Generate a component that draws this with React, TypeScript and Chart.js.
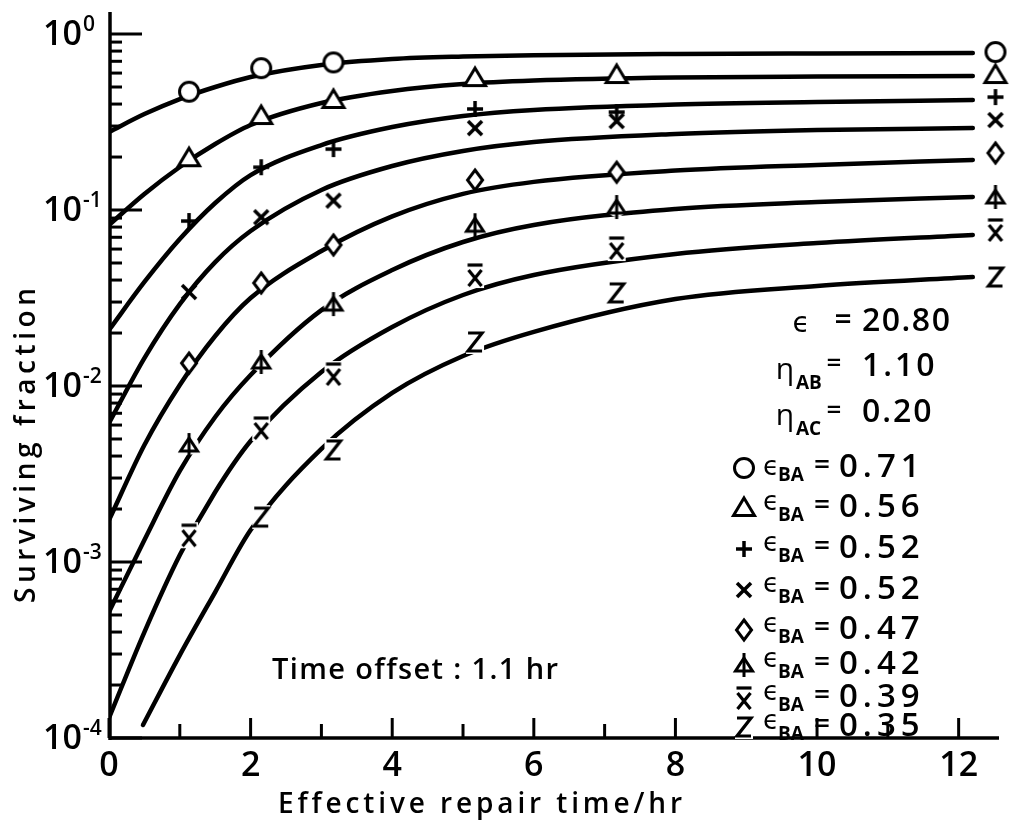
import React, { useEffect, useRef } from 'react';
import { Chart, registerables } from 'chart.js';

Chart.register(...registerables);

// ---------- data ----------
const curveX = [0, 0.5, 1, 1.5, 2, 3, 4, 5, 6, 8, 10, 12.2];
const zCurveX = [0.48, 1, 1.5, 2, 3, 4, 5, 6, 8, 10, 12.2];

const curveCircle = [0.2775, 0.351, 0.427, 0.5, 0.57, 0.667, 0.721, 0.745, 0.758, 0.77, 0.776, 0.78];
const curveTriangle = [0.0822, 0.1233, 0.1755, 0.2371, 0.304, 0.4055, 0.4745, 0.52, 0.5442, 0.566, 0.5735, 0.577];
const curvePlus = [0.0208, 0.039, 0.0684, 0.1096, 0.158, 0.234, 0.296, 0.342, 0.37, 0.3976, 0.4109, 0.4217];
const curveCross = [0.00616, 0.01442, 0.0292, 0.0506, 0.076, 0.13, 0.1778, 0.2164, 0.2433, 0.2703, 0.2847, 0.2922];
const curveDiamond = [0.00173, 0.00462, 0.01013, 0.01923, 0.0316, 0.0585, 0.092, 0.1235, 0.1445, 0.1675, 0.1805, 0.1924];
const curveTriBar = [0.00052, 0.001334, 0.00329, 0.00667, 0.01155, 0.027, 0.0456, 0.0658, 0.0822, 0.1013, 0.111, 0.1186];
const curveXBar = [0.00013, 0.0004, 0.001096, 0.0025, 0.00487, 0.012, 0.02164, 0.0329, 0.0427, 0.0562, 0.0649, 0.0721];
const curveZ = [0.0001186, 0.000296, 0.000675, 0.00152, 0.00439, 0.00913, 0.0148, 0.0203, 0.0312, 0.037, 0.0416];

const markerX = [1.13, 2.15, 3.17, 5.17, 7.17];
const markCircle = [0.47, 0.64, 0.69, null, null];
const markTriangle = [0.197, 0.342, 0.422, 0.562, 0.585];
const markPlus = [0.0866, 0.175, 0.222, 0.375, 0.36];
const markCross = [0.0342, 0.091, 0.113, 0.292, 0.32];
const markDiamond = [0.0135, 0.0385, 0.0633, 0.148, 0.164];
const markTriBar = [0.00462, 0.0137, 0.0292, 0.082, 0.104];
const markXBar = [0.00142, 0.00577, 0.0117, 0.0427, 0.0608];
const markZ = [null, 0.0018, 0.00433, 0.0178, 0.0338];

const labelX = 12.52;
const labelY = [0.79, 0.585, 0.438, 0.3245, 0.211, 0.1186, 0.077, 0.0416];

const seriesKinds = ['circle', 'triangle', 'plus', 'cross', 'diamond', 'tribar', 'xbar', 'zed'];
const epsBA = ['0.71', '0.56', '0.52', '0.52', '0.47', '0.42', '0.39', '0.35'];

const xMajorTicks = [0, 2, 4, 6, 8, 10, 12];
const xMinorTicks = [1, 3, 5, 7, 9, 11];
const yExponents = [0, -1, -2, -3, -4];
const yMinorMantissas = [2, 3, 4, 5, 6, 7, 8, 9];

const xMin = 0;
const xMax = 12.57;
const yMin = 1e-4;
const yMax = 1.334;

const xTitle = 'Effective repair time/hr';
const yTitle = 'Surviving fraction';
const offsetNote = 'Time offset : 1.1 hr';
const epsValue = '20.80';
const etaAB = '1.10';
const etaAC = '0.20';

// ---------- helpers ----------
const FONT = '"Open Sans", "DejaVu Sans", sans-serif';
const f = (size: number, w = 600) => `${w} ${size}px ${FONT}`;

const MS = 30;
function makeMarker(kind: string): HTMLCanvasElement {
  const c = document.createElement('canvas');
  c.width = MS;
  c.height = MS;
  const g = c.getContext('2d')!;
  const m = MS / 2;
  g.strokeStyle = '#000';
  g.fillStyle = '#fff';
  g.lineWidth = 3;
  g.lineJoin = 'miter';
  const halo = (r: number) => {
    g.fillStyle = '#fff';
    g.beginPath();
    g.arc(m, m, r, 0, Math.PI * 2);
    g.fill();
  };
  const line = (x1: number, y1: number, x2: number, y2: number) => {
    g.beginPath();
    g.moveTo(x1, y1);
    g.lineTo(x2, y2);
    g.stroke();
  };
  switch (kind) {
    case 'circle':
      g.beginPath();
      g.arc(m, m, 9.5, 0, Math.PI * 2);
      g.fill();
      g.stroke();
      break;
    case 'triangle':
      g.beginPath();
      g.moveTo(m, m - 10);
      g.lineTo(m + 10.5, m + 7.5);
      g.lineTo(m - 10.5, m + 7.5);
      g.closePath();
      g.fill();
      g.stroke();
      break;
    case 'plus':
      g.lineWidth = 3.5;
      line(m - 8, m, m + 8, m);
      line(m, m - 8, m, m + 8);
      break;
    case 'cross':
      g.lineWidth = 3.5;
      line(m - 7, m - 7, m + 7, m + 7);
      line(m + 7, m - 7, m - 7, m + 7);
      break;
    case 'diamond':
      g.beginPath();
      g.moveTo(m, m - 10);
      g.lineTo(m + 7.5, m);
      g.lineTo(m, m + 10);
      g.lineTo(m - 7.5, m);
      g.closePath();
      g.fill();
      g.stroke();
      break;
    case 'tribar':
      halo(10);
      g.fillStyle = '#fff';
      g.beginPath();
      g.moveTo(m, m - 7);
      g.lineTo(m + 8.5, m + 6);
      g.lineTo(m - 8.5, m + 6);
      g.closePath();
      g.fill();
      g.stroke();
      line(m, m - 12, m, m + 12);
      break;
    case 'xbar':
      g.fillStyle = '#fff';
      g.fillRect(m - 9, m - 13, 18, 26);
      g.lineWidth = 3.2;
      line(m - 7.5, m - 10, m + 7.5, m - 10);
      line(m - 6.5, m - 5, m + 6.5, m + 11);
      line(m + 6.5, m - 5, m - 6.5, m + 11);
      break;
    case 'zed':
      g.fillStyle = '#fff';
      g.fillRect(m - 9, m - 12, 18, 24);
      g.lineWidth = 3.2;
      g.beginPath();
      g.moveTo(m - 7, m - 9);
      g.lineTo(m + 7, m - 9);
      g.lineTo(m - 7, m + 9);
      g.lineTo(m + 7, m + 9);
      g.stroke();
      break;
  }
  return c;
}

function drawFit(ctx: CanvasRenderingContext2D, text: string, left: number, y: number, width: number) {
  const anyCtx = ctx as any;
  anyCtx.letterSpacing = '0px';
  const w = ctx.measureText(text).width;
  const n = Array.from(text).length;
  const sp = n > 1 ? (width - w) / (n - 1) : 0;
  anyCtx.letterSpacing = `${sp}px`;
  ctx.textAlign = 'left';
  ctx.fillText(text, left, y);
  anyCtx.letterSpacing = '0px';
}

function drawSpaced(ctx: CanvasRenderingContext2D, text: string, left: number, y: number, spacing: number) {
  const anyCtx = ctx as any;
  anyCtx.letterSpacing = `${spacing}px`;
  ctx.textAlign = 'left';
  ctx.fillText(text, left, y);
  anyCtx.letterSpacing = '0px';
}

function figurePlugin(markers: HTMLCanvasElement[]) {
  return {
    id: 'figure',
    beforeDatasetsDraw(chart: any) {
      const { ctx, chartArea, scales } = chart;
      const { left, right, top, bottom } = chartArea;
      const x = scales.x;
      const y = scales.y;
      ctx.save();
      ctx.strokeStyle = '#000';
      ctx.lineCap = 'butt';
      ctx.lineWidth = 3.5;
      ctx.beginPath();
      ctx.moveTo(left + 1, top);
      ctx.lineTo(left + 1, bottom + 2);
      ctx.stroke();
      ctx.beginPath();
      ctx.moveTo(left, bottom);
      ctx.lineTo(right, bottom);
      ctx.stroke();
      ctx.lineWidth = 3;
      for (const e of yExponents) {
        const py = y.getPixelForValue(Math.pow(10, e));
        ctx.beginPath();
        ctx.moveTo(left, py);
        ctx.lineTo(left + 33, py);
        ctx.stroke();
        if (e < 0) {
          for (const mm of yMinorMantissas) {
            const pm = y.getPixelForValue(mm * Math.pow(10, e));
            ctx.beginPath();
            ctx.moveTo(left, pm);
            ctx.lineTo(left + 13, pm);
            ctx.stroke();
          }
        }
      }
      for (const t of xMajorTicks) {
        const px = x.getPixelForValue(t);
        ctx.beginPath();
        ctx.moveTo(px, bottom);
        ctx.lineTo(px, bottom - 20);
        ctx.stroke();
      }
      for (const t of xMinorTicks) {
        const px = x.getPixelForValue(t);
        ctx.beginPath();
        ctx.moveTo(px, bottom);
        ctx.lineTo(px, bottom - 14);
        ctx.stroke();
      }
      ctx.restore();
    },
    afterDraw(chart: any) {
      const { ctx, scales } = chart;
      const x = scales.x;
      const y = scales.y;
      ctx.save();
      ctx.fillStyle = '#000';
      // y tick labels
      for (const e of yExponents) {
        const py = y.getPixelForValue(Math.pow(10, e));
        ctx.font = f(34);
        ctx.textAlign = 'right';
        ctx.textBaseline = 'middle';
        ctx.fillText('10', 82, py + 1);
        ctx.font = f(21);
        ctx.textAlign = 'left';
        ctx.textBaseline = 'alphabetic';
        ctx.fillText(e === 0 ? '0' : '-' + String(-e), 83, py - 3);
      }
      ctx.textBaseline = 'middle';
      // x tick labels
      ctx.font = f(34);
      ctx.textAlign = 'center';
      for (const t of xMajorTicks) {
        ctx.fillText(String(t), x.getPixelForValue(t), 766);
      }
      // axis titles
      ctx.font = f(28);
      drawFit(ctx, xTitle, 278, 805, 404);
      ctx.save();
      ctx.translate(27, 446);
      ctx.rotate(-Math.PI / 2);
      drawFit(ctx, yTitle, -157, 0, 315);
      ctx.restore();
      // note
      ctx.font = f(29);
      drawFit(ctx, offsetNote, 272, 671, 286);

      // parameter block
      ctx.textAlign = 'center';
      ctx.font = f(28, 400);
      ctx.fillText('\u03F5', 801, 324);
      ctx.font = f(30);
      ctx.fillText('=', 843, 321);
      ctx.font = f(32);
      drawSpaced(ctx, epsValue, 862, 322, 1.5);

      ctx.textAlign = 'center';
      ctx.font = f(30, 400);
      ctx.fillText('\u03B7', 785, 370);
      ctx.font = f(19, 700);
      ctx.textAlign = 'left';
      ctx.fillText('AB', 796, 384);
      ctx.textAlign = 'center';
      ctx.font = f(26);
      ctx.fillText('=', 834, 364);
      ctx.font = f(32);
      drawSpaced(ctx, etaAB, 862, 367, 3);

      ctx.textAlign = 'center';
      ctx.font = f(30, 400);
      ctx.fillText('\u03B7', 785, 416);
      ctx.font = f(19, 700);
      ctx.textAlign = 'left';
      ctx.fillText('AC', 796, 430);
      ctx.textAlign = 'center';
      ctx.font = f(26);
      ctx.fillText('=', 834, 411);
      ctx.font = f(32);
      drawSpaced(ctx, etaAC, 862, 413, 2);

      // legend rows
      const rowsY = [468, 508, 549, 590, 630, 665, 698, 727];
      seriesKinds.forEach((_, k) => {
        const ry = rowsY[k];
        ctx.drawImage(markers[k], 744 - MS / 2, ry - MS / 2);
        ctx.textAlign = 'center';
        ctx.font = f(26, 400);
        ctx.fillText('\u03F5', 771, k === 0 ? ry : ry - 5);
        ctx.font = f(19, 700);
        ctx.textAlign = 'left';
        ctx.fillText('BA', 778, ry + 8);
        ctx.textAlign = 'center';
        ctx.font = f(28);
        ctx.fillText('=', 822, ry - 2);
        ctx.font = f(33);
        drawSpaced(ctx, epsBA[k], 839, ry, 5);
      });
      ctx.restore();
    },
  };
}

export default function App() {
  const ref = useRef<HTMLCanvasElement>(null);
  useEffect(() => {
    const canvas = ref.current;
    if (!canvas) return;
    const markers = seriesKinds.map(makeMarker);
    const curves = [curveCircle, curveTriangle, curvePlus, curveCross, curveDiamond, curveTriBar, curveXBar, curveZ];
    const marks = [markCircle, markTriangle, markPlus, markCross, markDiamond, markTriBar, markXBar, markZ];

    const curveSets = curves.map((vals, k) => {
      const xs = k === 7 ? zCurveX : curveX;
      return {
        label: `curve-${seriesKinds[k]}`,
        data: xs.map((xv, i) => ({ x: xv, y: vals[i] })),
        showLine: true,
        borderColor: '#000',
        borderWidth: 4.5,
        borderCapStyle: 'round',
        pointRadius: 0,
        cubicInterpolationMode: 'monotone',
        order: 2,
      };
    });
    const markSets = marks.map((vals, k) => {
      const pts: { x: number; y: number }[] = [];
      markerX.forEach((xv, i) => {
        const v = vals[i];
        if (v != null) pts.push({ x: xv, y: v });
      });
      pts.push({ x: labelX, y: labelY[k] });
      return {
        label: `marks-${seriesKinds[k]}`,
        data: pts,
        showLine: false,
        pointStyle: markers[k],
        pointRadius: 10,
        clip: false,
        order: 1,
      };
    });

    const chart = new Chart(canvas, {
      type: 'scatter',
      data: { datasets: [...curveSets, ...markSets] as any },
      options: {
        responsive: false,
        animation: false,
        devicePixelRatio: 1,
        events: [],
        layout: { padding: { top: 12, left: 0, right: 0, bottom: 0 } },
        plugins: { legend: { display: false }, tooltip: { enabled: false } },
        scales: {
          x: {
            type: 'linear',
            min: xMin,
            max: xMax,
            ticks: { display: false },
            grid: { display: false },
            border: { display: false },
            afterFit: (s: any) => {
              s.height = 85;
            },
          },
          y: {
            type: 'logarithmic',
            min: yMin,
            max: yMax,
            ticks: { display: false },
            grid: { display: false },
            border: { display: false },
            afterFit: (s: any) => {
              s.width = 109;
            },
          },
        },
      } as any,
      plugins: [figurePlugin(markers)],
    });
    return () => chart.destroy();
  }, []);

  return (
    <div style={{ position: 'fixed', left: 0, top: 0, width: 1010, height: 823, background: '#fff' }}>
      <canvas ref={ref} width={1010} height={823} style={{ display: 'block', width: 1010, height: 823 }} />
    </div>
  );
}
